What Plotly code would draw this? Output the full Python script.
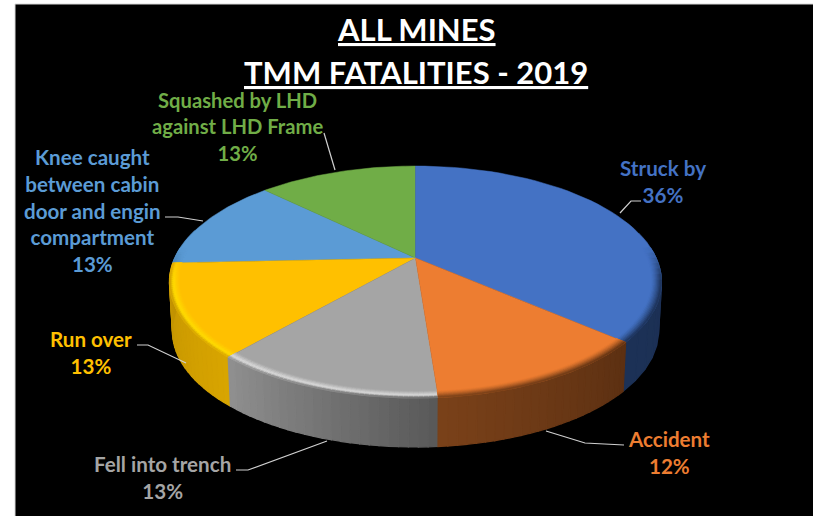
import math
import plotly.graph_objects as go

# Data
categories = ["Struck by", "Accident", "Fell into trench", "Run over",
              "Knee caught<br>between cabin<br>door and engin<br>compartment",
              "Squashed by LHD<br>against LHD Frame"]
values = [36.4, 12.4, 12.6, 12.9, 13.0, 12.7]
colors = ["#4472c4", "#ed7d31", "#a5a5a5", "#ffc000", "#5b9bd5", "#70ad47"]
title_lines = ["ALL MINES", "TMM FATALITIES - 2019"]

# Geometry of the tilted disc (pixels of the picture)
CX, CY = 415.5, 258
A, B, K = 111, 240.7, 0.207
WALL = 49

def project(theta, r=1.0, drop=0.0):
    p = math.cos(theta) * r
    s = 1 / (1 + K * p)
    shrink = 1 - 0.012 * (drop / WALL)
    return (CX + B * r * math.sin(theta) * s * shrink, CY - A * p * s + drop)

def rgb(c):
    return [int(c[i:i + 2], 16) for i in (1, 3, 5)]

def hexcol(v):
    return "#%02x%02x%02x" % tuple(round(x) for x in v)

def mix(c1, c2, t):
    a, b = rgb(c1), rgb(c2)
    return hexcol([x + (y - x) * t for x, y in zip(a, b)])

fig = go.Figure()

def poly(pts, color, width=1.3):
    xs = [p[0] for p in pts] + [pts[0][0]]
    ys = [p[1] for p in pts] + [pts[0][1]]
    fig.add_trace(go.Scatter(x=xs, y=ys, mode="lines", fill="toself", fillcolor=color,
                             line=dict(color=color, width=width), hoverinfo="skip", showlegend=False))

# Slice boundaries from the values
total = sum(values)
edges = [0.0]
for v in values:
    edges.append(edges[-1] + v / total * 2 * math.pi)

def arc(t0, t1, n):
    return [t0 + (t1 - t0) * i / n for i in range(n + 1)]

# Wall colour at the two ends of each slice (start angle, end angle)
wall_cols = [("#1a2d50", "#1c3156"), ("#5c3012", "#7a4119"), ("#585858", "#909090"),
             ("#d9a500", "#c09200"), ("#3a6a96", "#3a6a96"), ("#4c7530", "#4c7530")]
# Colour of the thin highlight along the rim (None = fades straight into the wall)
rim_hi = [None, None, "#dcdcdc", "#ffdc00", None, None]

STEPS = 24
order = [4, 5, 3, 0, 2, 1]

def wall_colour(i, frac):
    return mix(wall_cols[i][0], wall_cols[i][1], frac)

# Walls, back to front
for i in order:
    ts = arc(edges[i], edges[i + 1], STEPS)
    for j in range(STEPS):
        t0, t1 = ts[j], ts[j + 1]
        if math.cos((t0 + t1) / 2) > 0.25:
            continue
        poly([project(t0), project(t1), project(t1, drop=WALL), project(t0, drop=WALL)],
             wall_colour(i, (j + 0.5) / STEPS))

# Top faces and a soft bevel on the near side of the disc
R0 = 0.962
RINGS = 8
for i in order:
    c = colors[i]
    ts = arc(edges[i], edges[i + 1], 48)
    poly([(CX, CY)] + [project(t, 1.0) for t in ts], c, 0.5)
    for j in range(48):
        t0, t1 = ts[j], ts[j + 1]
        mid = (t0 + t1) / 2
        near = min(1.0, max(0.0, (-math.cos(mid) + 0.1) / 0.3))
        if near <= 0:
            continue
        wall = wall_colour(i, (j + 0.5) / 48)
        for k in range(RINGS):
            f = (k + 0.5) / RINGS
            r0 = R0 + (1 - R0) * k / RINGS
            r1 = R0 + (1 - R0) * (k + 1) / RINGS
            if rim_hi[i]:
                col = mix(c, rim_hi[i], f / 0.65) if f < 0.65 else mix(rim_hi[i], wall, (f - 0.65) / 0.35)
            else:
                col = mix(c, wall, f ** 1.3)
            poly([project(t0, r0), project(t1, r0), project(t1, r1), project(t0, r1)],
                 mix(c, col, near), 0.9)

fig.update_xaxes(range=[0, 813], visible=False, fixedrange=True)
fig.update_yaxes(range=[516, 0], visible=False, fixedrange=True)

# Labels
label_pos = [(663, 181), (669, 452), (162, 477), (91, 352), (92, 210), (237, 126)]
label_sizes = [20.6, 20.6, 20.6, 20.6, 20.6, 20.2]
font_family = "Lato, Liberation Sans, sans-serif"
annotations = []
for cat, val, col, (x, y), size in zip(categories, values, colors, label_pos, label_sizes):
    annotations.append(dict(x=x, y=y, xref="x", yref="y", showarrow=False, align="center",
                            text="<b>%s<br>%d%%</b>" % (cat, round(val / total * 100)),
                            font=dict(family=font_family, size=size, color=col),
                            xanchor="center", yanchor="middle"))
for line, y in zip(title_lines, (29, 72)):
    annotations.append(dict(x=416, y=y, xref="x", yref="y", showarrow=False, text="<b>%s</b>" % line,
                            font=dict(family=font_family, size=31, color="white", lineposition="under"),
                            xanchor="center", yanchor="middle"))

# Panel and leader lines
leaders = [[(620, 213), (631, 201), (641, 201)],
           [(546, 431), (585, 443), (624, 445)],
           [(327, 441), (248, 470), (236, 470)],
           [(186, 363), (148, 345), (137, 345)],
           [(203, 221), (178, 217), (165, 217)],
           [(335, 170), (324, 133)]]
shapes = [dict(type="rect", xref="x", yref="y", x0=15, x1=820, y0=4, y1=520, layer="below",
               fillcolor="black", line=dict(color="#d8d8d8", width=1))]
for pts in leaders:
    path = "M " + " L ".join("%g,%g" % p for p in pts)
    shapes.append(dict(type="path", xref="x", yref="y", path=path, layer="above",
                       line=dict(color="#d0d0d0", width=1.2)))

fig.update_layout(width=813, height=516, margin=dict(l=0, r=0, t=0, b=0), paper_bgcolor="white",
                  plot_bgcolor="rgba(0,0,0,0)", showlegend=False, annotations=annotations, shapes=shapes)
fig.write_html("out.html", config=dict(displayModeBar=False),
               post_script="document.body.style.margin='0';document.documentElement.style.overflow='hidden';")
